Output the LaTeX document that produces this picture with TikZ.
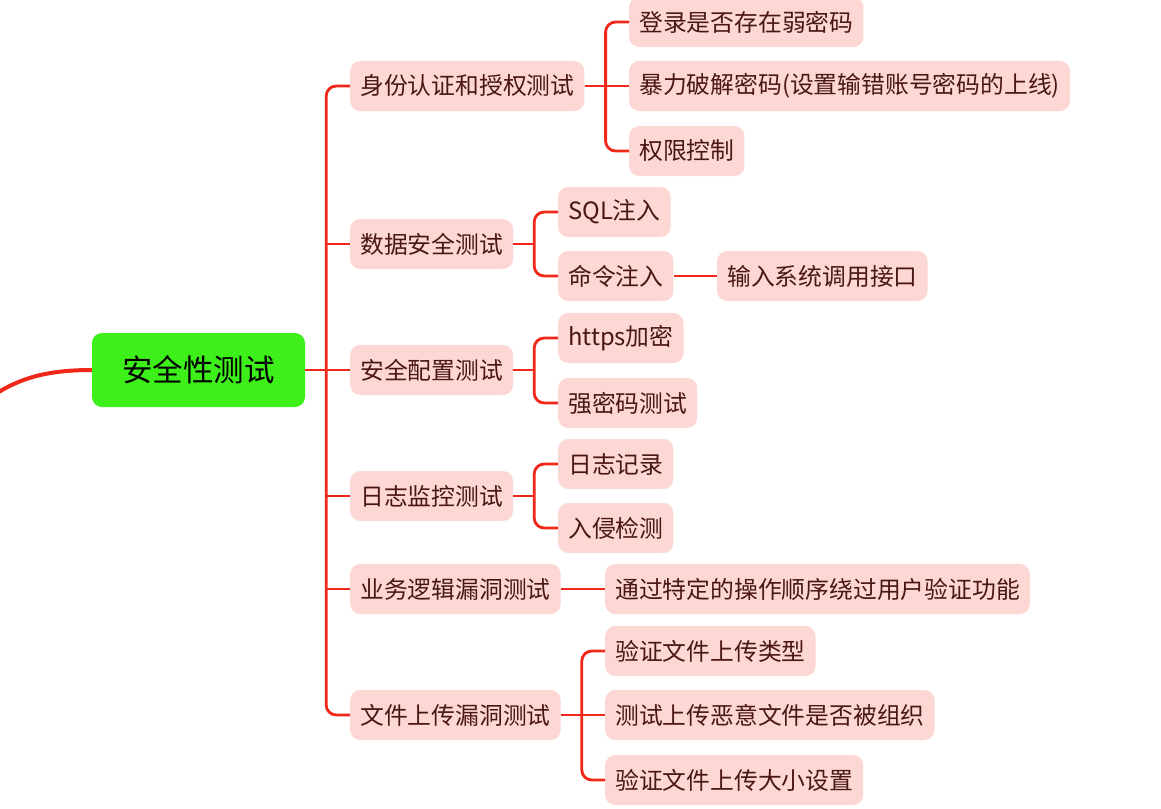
\documentclass[tikz,border=0pt]{standalone}
\usepackage{fontspec}
\usetikzlibrary{calc}
\setmainfont{Noto Sans CJK SC}
\definecolor{linered}{HTML}{F0281A}
\definecolor{pinkfill}{HTML}{FDD7D3}
\definecolor{pinktext}{HTML}{4A1712}
\definecolor{rootgreen}{HTML}{3DF01A}
\begin{document}
\begin{tikzpicture}[x=1pt,y=-1pt,
  rootbox/.style={fill=rootgreen, rounded corners=10pt, minimum width=213pt, minimum height=74pt, inner sep=0pt, font=\fontsize{30.5}{34}\selectfont, text=black},
  topic/.style={fill=pinkfill, rounded corners=10pt, minimum height=50pt, inner xsep=10pt, inner ysep=0pt, anchor=west, font=\fontsize{23.8}{28}\selectfont, text=pinktext},
  conn/.style={draw=linered, line width=2.8pt, rounded corners=10pt},
]
\useasboundingbox (0,0) rectangle (1161,808);

\node[rootbox] (root) at (198.5,370) {安全性测试};
\coordinate (lefte) at (-3,393);
\draw[draw=linered, line width=4pt] (root.west) .. controls (45,370) and (20,379) .. (lefte);

% level 1
\node[topic] (a) at (350,86) {身份认证和授权测试};
\node[topic] (b) at (350,244) {数据安全测试};
\node[topic] (c) at (350,370) {安全配置测试};
\node[topic] (d) at (350,496) {日志监控测试};
\node[topic] (e) at (350,589) {业务逻辑漏洞测试};
\node[topic] (f) at (350,715) {文件上传漏洞测试};

% level 2
\node[topic] (a1) at (629,22) {登录是否存在弱密码};
\node[topic] (a2) at (629,86) {暴力破解密码(设置输错账号密码的上线)};
\node[topic] (a3) at (629,151) {权限控制};

\node[topic] (b1) at (558,212) {SQL注入};
\node[topic] (b2) at (558,276) {命令注入};
\node[topic] (b21) at (717,276) {输入系统调用接口};

\node[topic] (c1) at (558,338) {https加密};
\node[topic] (c2) at (558,403) {强密码测试};

\node[topic] (d1) at (558,464) {日志记录};
\node[topic] (d2) at (558,528) {入侵检测};

\node[topic] (e1) at (605,589) {通过特定的操作顺序绕过用户验证功能};

\node[topic] (f1) at (605,651) {验证文件上传类型};
\node[topic] (f2) at (605,715) {测试上传恶意文件是否被组织};
\node[topic] (f3) at (605,780) {验证文件上传大小设置};

% junction points
\coordinate (troot) at ($(root.east)+(21,0)$);
\coordinate (ta) at ($(a.east)+(21,0)$);
\coordinate (tb) at ($(b.east)+(21,0)$);
\coordinate (tc) at ($(c.east)+(21,0)$);
\coordinate (td) at ($(d.east)+(21,0)$);
\coordinate (tf) at ($(f.east)+(21,0)$);

% connectors
\draw[conn] (root.east) -- (troot);
\draw[conn] (a.west) -| (troot) |- (f.west);
\foreach \n in {b,c,d,e} \draw[conn] (troot |- \n.west) -- (\n.west);

\draw[conn] (a.east) -- (ta);
\draw[conn] (a1.west) -| (ta) |- (a3.west);
\draw[conn] (ta) -- (a2.west);

\draw[conn] (b.east) -- (tb);
\draw[conn] (b1.west) -| (tb) |- (b2.west);

\draw[conn] (c.east) -- (tc);
\draw[conn] (c1.west) -| (tc) |- (c2.west);

\draw[conn] (d.east) -- (td);
\draw[conn] (d1.west) -| (td) |- (d2.west);

\draw[conn] (f.east) -- (tf);
\draw[conn] (f1.west) -| (tf) |- (f3.west);
\draw[conn] (tf) -- (f2.west);

\draw[conn] (b2.east) -- (b21.west);
\draw[conn] (e.east) -- (e1.west);
\end{tikzpicture}
\end{document}
